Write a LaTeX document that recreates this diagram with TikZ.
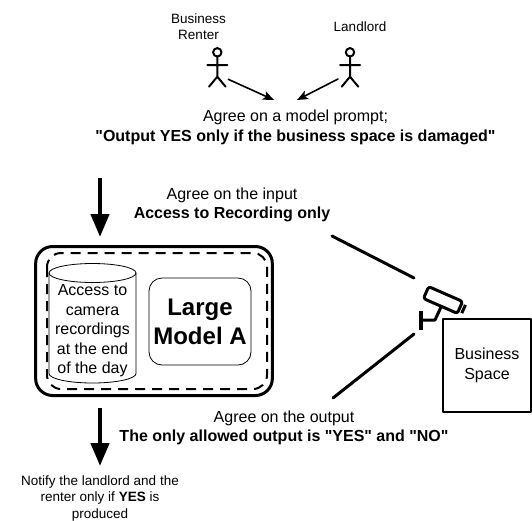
\documentclass[tikz,border=0pt]{standalone}
\usepackage{fontspec}
\setmainfont{Liberation Sans}
\usetikzlibrary{arrows.meta}
\begin{document}
\begin{tikzpicture}[x=1pt, y=-1pt, line join=round, line cap=round,
		font=\fontsize{16}{19.5}\selectfont,
		txt/.style={align=center, inner sep=0pt},
		small/.style={txt, font=\fontsize{13.5}{16.5}\selectfont},
		bigarrow/.style={line width=4.5pt, line cap=butt, -{Triangle[width=18pt,length=23pt]}},
		talk/.style={line width=1.6pt, -{Stealth[width=9pt,length=11pt,inset=2.5pt]}},
		view/.style={line width=3pt}]
		\def\q{\textquotedbl}
		\useasboundingbox (0,0) rectangle (532,520);
		% the two parties
		\foreach \n/\hx in {renter/217.3, lord/350}{
			\draw[line width=2pt] (\hx,52.3) circle[radius=4.2]
			(\hx,56.5) -- (\hx,76.7)
			(\hx-10,65) -- (\hx+10,65)
			(\hx-8.3,86.7) -- (\hx,76.7) -- (\hx+8.3,86.7);
			\coordinate (\n) at (\hx,76.7);
		}
		\node[small] (renterlbl) at (198.5,26.5) {Business\\Renter};
		\node[small] (lordlbl) at (360,27) {Landlord};
		\coordinate (renterhand) at (228.3,79.3);
		\coordinate (lordhand) at (338,79);
		\coordinate (tipA) at (274,100);
		\coordinate (tipB) at (297,100);
		\draw[talk] (renterhand) -- (tipA);
		\draw[talk] (lordhand) -- (tipB);
		\node[txt] (prompt) at (295.5,127.5) {Agree on a model prompt;\\\textbf{\q Output YES only if the business space is damaged\q}};
		% enclave
		\node[draw, line width=3pt, rounded corners=17pt, minimum width=236.7pt, minimum height=149pt] (enc) at (154,321) {};
		\draw[line width=2pt, dash pattern=on 10pt off 7pt, line cap=butt, rounded corners=14pt] (47,253) rectangle (267,389);
		\draw[line width=0.8pt] (49,273) -- (49,373.5) arc[start angle=180, end angle=0, x radius=43.5, y radius=9.5] -- (136,273);
		\draw[line width=0.8pt] (92.5,273) ellipse[x radius=43.5, y radius=9.5];
		\node[txt] (rec) at (92.5,331) {Access to\\camera\\recordings\\at the end\\of the day};
		\node[draw, line width=0.8pt, rounded corners=13pt, minimum width=102pt, minimum height=87pt, align=center,
			font=\fontsize{24}{29}\selectfont\bfseries] (model) at (200,321.5) {Large\\Model A};
		\coordinate (topin) at (100,178);
		\coordinate (intip) at (100,237);
		\coordinate (botout) at (100,408);
		\coordinate (outtip) at (100,466);
		\draw[bigarrow] (topin) -- (intip);
		\draw[bigarrow] (botout) -- (outtip);
		\node[txt] (inlbl) at (232,205) {Agree on the input\\\textbf{Access to Recording only}};
		\node[txt] (outlbl) at (284,428) {Agree on the output\\\textbf{The only allowed output is \q YES\q{} and \q NO\q}};
		\node[small] (notify) at (100,498) {Notify the landlord and the\\renter only if \textbf{YES} is\\produced};
		% camera
		\begin{scope}[shift={(443,300)}, rotate=-23.6]
			\draw[line width=3pt, rounded corners=2.5pt] (-18.5,-6.5) rectangle (18.5,6.5);
			\fill (21,-4.5) rectangle (24,4.5);
		\end{scope}
		\draw[line width=3.5pt, line cap=butt] (421,311) -- (421,330);
		\draw[line width=3pt] (421,320) -- (435,320) -- (441,307);
		\coordinate (inA) at (332,236);
		\coordinate (inB) at (414,278);
		\coordinate (outA) at (414,334);
		\coordinate (outB) at (333,398);
		\draw[view] (inA) -- (inB);
		\draw[view] (outA) -- (outB);
		\node[draw, line width=2pt, minimum width=88pt, minimum height=93pt, align=center] (space) at (487,365.5) {Business\\Space};
\end{tikzpicture}
\end{document}
